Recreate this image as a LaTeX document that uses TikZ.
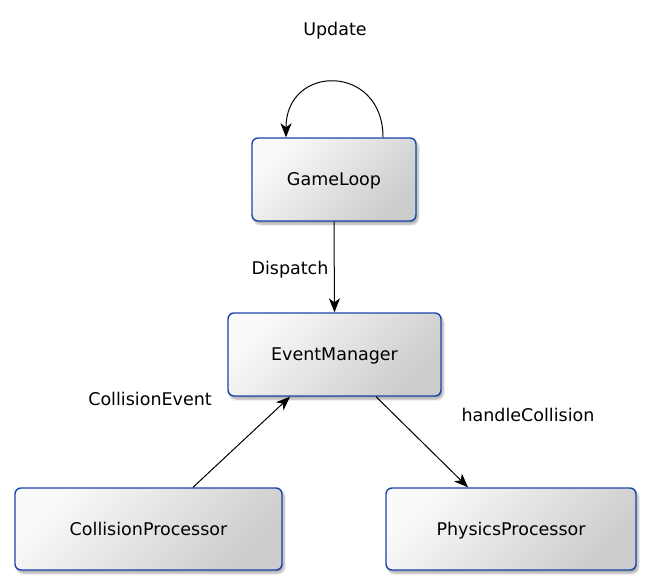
\documentclass[tikz,border=0pt]{standalone}
\usepackage{fontspec}
\setmainfont{DejaVu Sans}
\usetikzlibrary{arrows.meta,shadows.blur}
\definecolor{boxborder}{HTML}{1A44AE}
\begin{document}
\begin{tikzpicture}[x=1pt,y=-1pt,
  every node/.style={font=\fontsize{17.5}{20}\selectfont, inner sep=0pt, text depth=0pt},
  box/.style={draw=boxborder, line width=1.4pt, rounded corners=6pt,
    top color=black!2, bottom color=black!20, shading angle=45,
    blur shadow={shadow xshift=2pt, shadow yshift=-3pt, shadow blur steps=6, shadow opacity=35}},
  conn/.style={line width=1pt, -{Stealth[length=14pt,width=11pt,inset=4pt]}},
  lbl/.style={text=black}]
\useasboundingbox (0,0) rectangle (651,586);
\node[box, minimum width=164pt, minimum height=83pt] (gl) at (334,179.5) {GameLoop};
\node[box, minimum width=213pt, minimum height=83pt] (em) at (334.5,354.5) {EventManager};
\node[box, minimum width=267pt, minimum height=82pt] (cp) at (148.5,529) {CollisionProcessor};
\node[box, minimum width=250pt, minimum height=82pt] (pp) at (511,529) {PhysicsProcessor};
\node[lbl] (lu) at (335,29) {Update};
\node[lbl] (ld) at (290,268) {Dispatch};
\node[lbl] (lc) at (150,399) {CollisionEvent};
\node[lbl] (lh) at (528,415) {handleCollision};
\draw[conn] ([xshift=49pt]gl.north) to[out=90,in=90,looseness=1.95] ([xshift=-48pt]gl.north);
\draw[conn] (gl.south) -- (em.north);
\draw[conn] ([xshift=44.5pt]cp.north) -- ([xshift=-44.5pt]em.south);
\draw[conn] ([xshift=41.5pt]em.south) -- ([xshift=-43pt]pp.north);
\end{tikzpicture}
\end{document}
